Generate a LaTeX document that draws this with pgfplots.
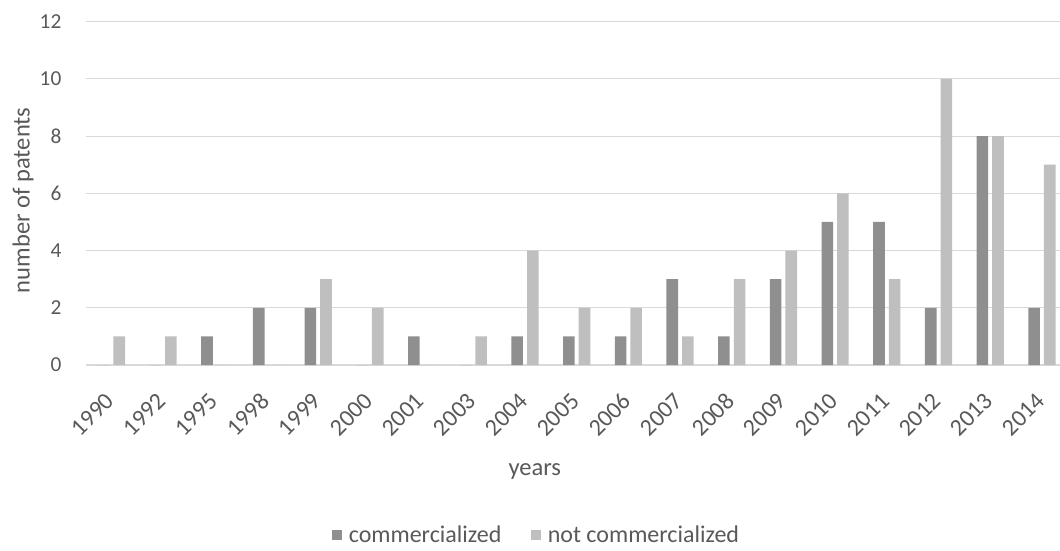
\documentclass[border=0pt]{standalone}
\usepackage{fontspec}
\setmainfont{Carlito}
\usepackage{pgfplots}
\pgfplotsset{compat=1.18}
\definecolor{darkbar}{HTML}{8F8F8F}
\definecolor{lightbar}{HTML}{BFBFBF}
\definecolor{gridc}{HTML}{D9D9D9}
\definecolor{txt}{HTML}{595959}
\begin{document}
\begin{tikzpicture}
\begin{axis}[
  at={(0,0)}, anchor=south west,
  scale only axis,
  width=730.8pt, height=257.5pt,
  xmin=-0.5, xmax=18.35,
  ymin=0, ymax=12,
  ytick={0,2,4,6,8,10,12},
  xtick={0,...,18},
  xticklabels={1990,1992,1995,1998,1999,2000,2001,2003,2004,2005,2006,2007,2008,2009,2010,2011,2012,2013,2014},
  axis y line*=left,
  axis x line*=bottom,
  y axis line style={draw=none},
  x axis line style={draw=gridc, line width=0.9pt, -},
  ymajorgrids,
  grid style={draw=gridc, line width=0.9pt},
  major tick length=0pt,
  /pgf/number format/assume math mode=true,
  ticklabel style={font=\fontsize{16}{19}\selectfont, text=txt, inner sep=0pt},
  yticklabel style={anchor=east, xshift=-18pt},
  xticklabel style={font=\fontsize{18}{21}\selectfont, xshift=-1pt, yshift=-24pt, rotate=45, anchor=east},
  xlabel={years},
  ylabel={number of patents},
  label style={font=\fontsize{18.4}{22}\selectfont, text=txt},
  xlabel style={at={(axis description cs:0.461,0)}, anchor=center, yshift=-80pt},
  ylabel style={at={(axis description cs:-0.0642,0.48)}, anchor=center},
  ybar,
  bar width=0.224,
  legend style={at={(axis description cs:0.463,0)}, anchor=center, yshift=-127.5pt,
    draw=none, fill=none, font=\fontsize{18}{21}\selectfont, text=txt,
    legend columns=2, column sep=0pt,
    /tikz/every odd column/.append style={column sep=3pt},
    /tikz/every even column/.append style={column sep=20pt},
    inner sep=0pt},
  legend image code/.code={\fill (0pt,-3.9pt) rectangle (7.8pt,3.9pt);},
  legend cell align=left,
]
\addplot[fill=darkbar, draw=none, bar shift=-0.151] coordinates {
(0,0) (1,0) (2,1) (3,2) (4,2) (5,0) (6,1) (7,0) (8,1) (9,1)
(10,1) (11,3) (12,1) (13,3) (14,5) (15,5) (16,2) (17,8) (18,2)};
\addlegendentry{commercialized}
\addplot[fill=lightbar, draw=none, bar shift=0.151] coordinates {
(0,1) (1,1) (2,0) (3,0) (4,3) (5,2) (6,0) (7,1) (8,4) (9,2)
(10,2) (11,1) (12,3) (13,4) (14,6) (15,3) (16,10) (17,8) (18,7)};
\addlegendentry{not commercialized}
\end{axis}
\pgfresetboundingbox
\useasboundingbox (-64.2pt,-138.75pt) rectangle (730.8pt,273.75pt);
\end{tikzpicture}
\end{document}
